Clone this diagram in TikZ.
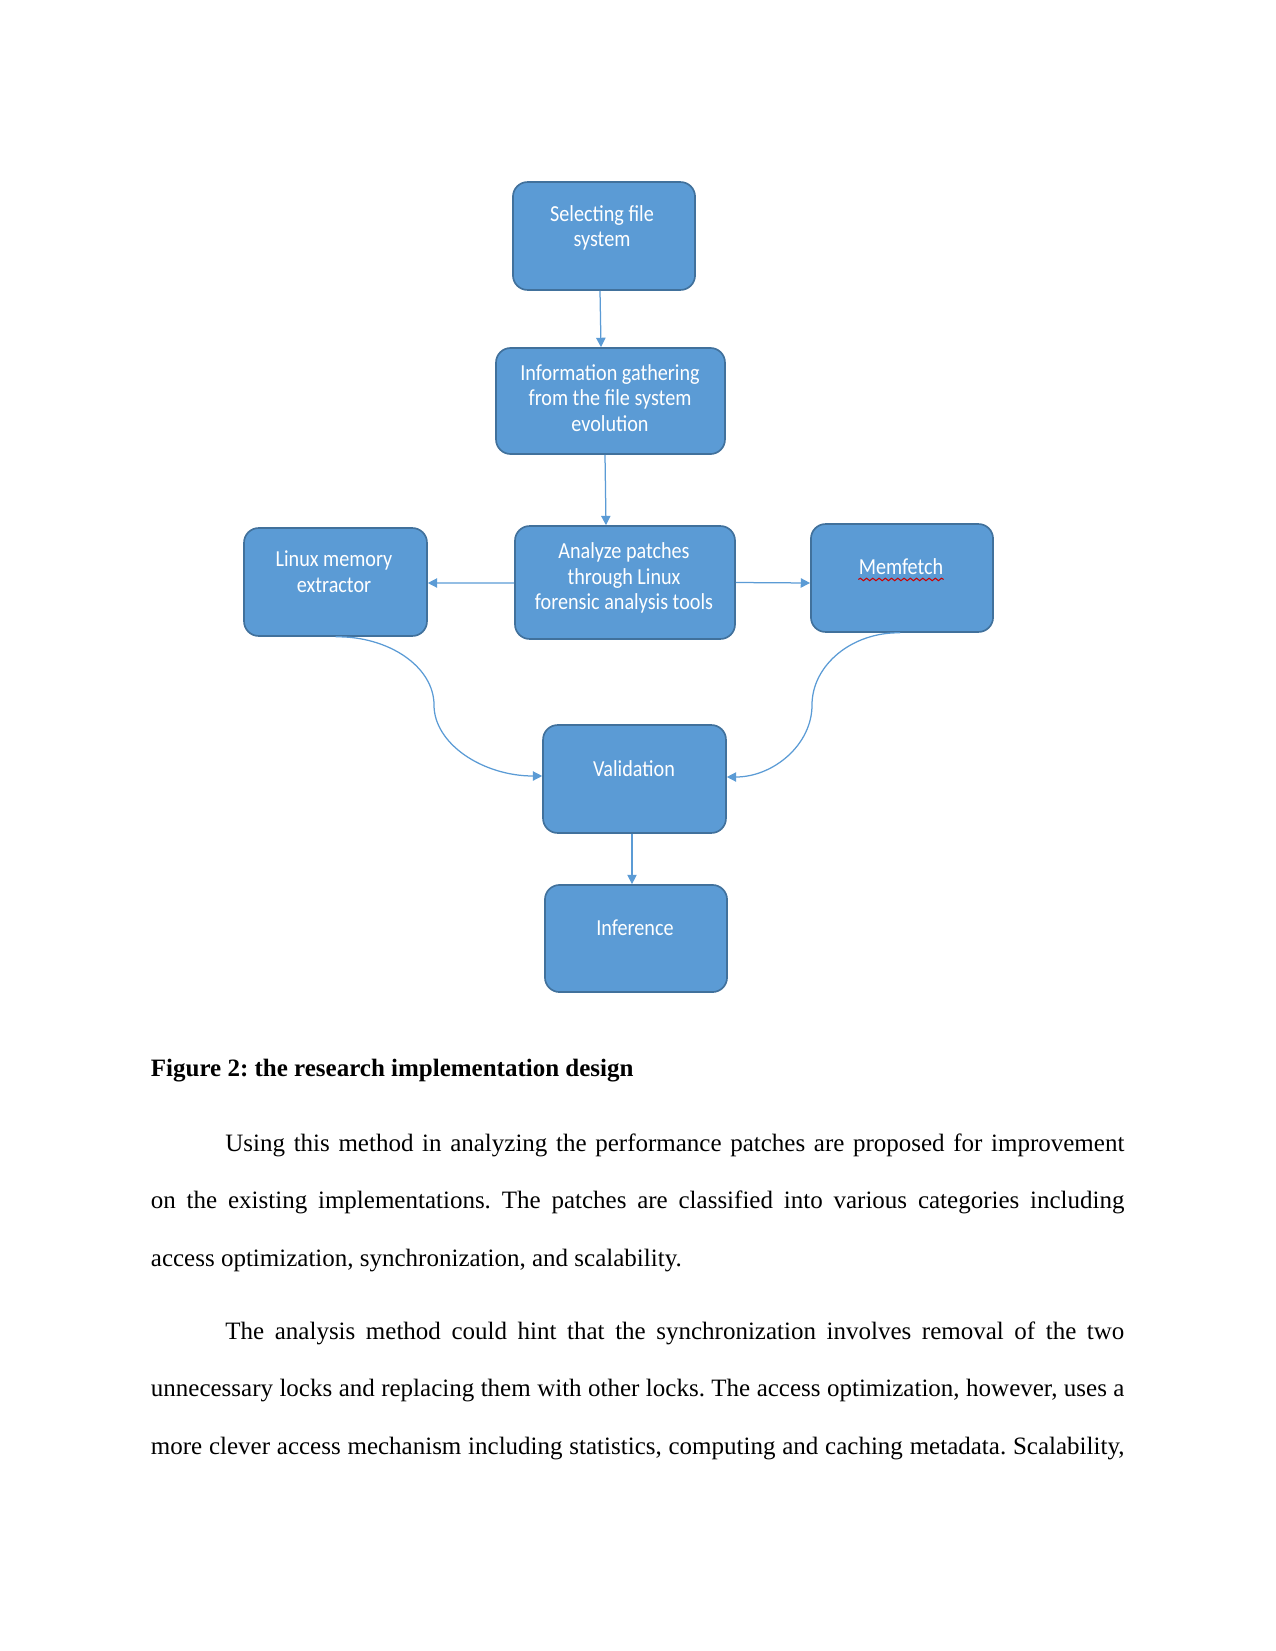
\documentclass[tikz,border=0pt]{standalone}
\usepackage{fontspec}
\setmainfont{Liberation Serif}
\newfontfamily\boxfont[FakeStretch=0.88]{Carlito}
\usetikzlibrary{arrows.meta,calc,decorations.pathmorphing}
\definecolor{boxfill}{HTML}{5B9BD5}
\definecolor{boxline}{HTML}{41719C}
\definecolor{arr}{HTML}{5B9BD5}
\frenchspacing
\tikzset{
  stepbox/.style={draw=boxline, line width=0.8pt, fill=boxfill, rounded corners=7pt, inner sep=0pt},
  boxtext/.style={text=white, font=\boxfont\fontsize{11}{12.3}\selectfont, align=center, inner sep=0pt},
  conn/.style={draw=arr, line width=0.6pt, -{Triangle[length=4.5pt,width=4.5pt]}},
  bodyline/.style={anchor=base west, inner sep=0pt, font=\fontsize{12}{14}\selectfont}
}
\begin{document}
\begin{tikzpicture}[x=0.48pt,y=-0.48pt]
\useasboundingbox (0,0) rectangle (1275,1651);
% boxes
\node[stepbox, minimum width=87.4pt, minimum height=51.8pt] (b1) at (604,236) {};
\node[stepbox, minimum width=109.9pt, minimum height=50.9pt] (b2) at (610.5,401) {};
\node[stepbox, minimum width=105.6pt, minimum height=54.2pt] (b3) at (625,582.5) {};
\node[stepbox, minimum width=87.8pt, minimum height=51.8pt] (lin) at (335.5,582) {};
\node[stepbox, minimum width=87.4pt, minimum height=51.8pt] (mem) at (902,578) {};
\node[stepbox, minimum width=87.8pt, minimum height=51.8pt] (val) at (634.5,779) {};
\node[stepbox, minimum width=87.4pt, minimum height=51.4pt] (inf) at (636,938.5) {};
% texts
\node[boxtext] (t1) at (602,228) {Selecting file\\system};
\node[boxtext] (t2) at (610,398) {Information gathering\\from the file system\\evolution};
\node[boxtext] (t3) at (624,578) {Analyze patches\\through Linux\\forensic analysis tools};
\node[boxtext] (tl) at (334,572) {Linux memory\\extractor};
\node[boxtext] (tm) at (901,567) {Memfetch};
\node[boxtext] (tv) at (634,769) {Validation};
\node[boxtext] (ti) at (635,928) {Inference};
\draw[red!80!black, line width=0.5pt, decorate, decoration={snake, amplitude=0.6pt, segment length=3pt}]
  ($(tm.south west)+(0,4)$) -- ($(tm.south east)+(0,4)$);
% connectors
\draw[conn] ($(b1.south)+(-4,0)$) -- ($(b2.north)+(-9.5,0)$);
\draw[conn] ($(b2.south)+(-5.5,0)$) -- ($(b3.north)+(-19,0)$);
\draw[conn] ($(b3.west)+(0,0.5)$) -- ($(lin.east)+(0,1)$);
\draw[conn] ($(b3.east)+(0,0)$) -- ($(mem.west)+(0,5)$);
\draw[conn] (lin.south) .. controls (389,636) and (434,667) .. (434,705) .. controls (434,744) and (483,776) .. ($(val.west)+(0,-3)$);
\draw[conn] ($(mem.south)+(-2,0)$) .. controls (852,632) and (812,665) .. (812,705) .. controls (812,745) and (773,777) .. ($(val.east)+(0,-2)$);
\draw[conn] ($(val.south)+(-2.5,0)$) -- ($(inf.north)+(-4,0)$);
% caption and text
\node[bodyline, font=\bfseries\fontsize{12}{14}\selectfont] (cap) at (150.5,1076) {Figure 2: the research implementation design};
\node[bodyline] (p1) at (225,1151) {\makebox[431.5pt][s]{Using this method in analyzing the performance patches are proposed for improvement}};
\node[bodyline] (p2) at (150.5,1208) {\makebox[467.3pt][s]{on the existing implementations. The patches are classified into various categories including}};
\node[bodyline] (p3) at (150.5,1266) {access optimization, synchronization, and scalability.};
\node[bodyline] (p4) at (225,1339) {\makebox[431.5pt][s]{The analysis method could hint that the synchronization involves removal of the two}};
\node[bodyline] (p5) at (150.5,1396) {\makebox[467.3pt][s]{unnecessary locks and replacing them with other locks. The access optimization, however, uses a}};
\node[bodyline] (p6) at (150.5,1454) {\makebox[467.3pt][s]{more clever access mechanism including statistics, computing and caching metadata. Scalability,}};
\end{tikzpicture}
\end{document}
